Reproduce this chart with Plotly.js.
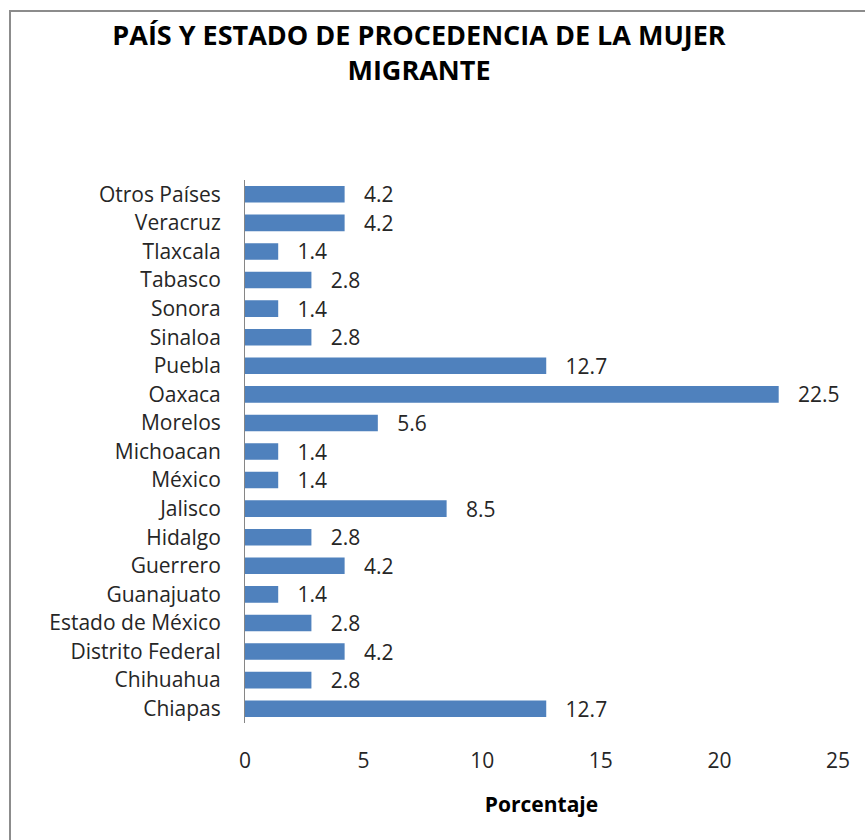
<!DOCTYPE html>
<html>
<head>
<meta charset="utf-8">
<script src="https://cdn.plot.ly/plotly-3.0.1.min.js"></script>
<style>
  html, body { margin: 0; padding: 0; background: #fff; overflow: hidden; }
  #frame { position: absolute; left: 9px; top: 10px; width: 900px; height: 900px;
           border-left: 2px solid #8c8c8c; border-top: 2px solid #8c8c8c; }
  #chart { position: absolute; left: 0; top: 0; width: 865px; height: 840px; }
</style>
</head>
<body>
<div id="frame"></div>
<div id="chart"></div>
<script>
const categories = ["Chiapas", "Chihuahua", "Distrito Federal", "Estado de México", "Guanajuato",
  "Guerrero", "Hidalgo", "Jalisco", "México", "Michoacan", "Morelos", "Oaxaca", "Puebla",
  "Sinaloa", "Sonora", "Tabasco", "Tlaxcala", "Veracruz", "Otros Países"];
const values = [12.7, 2.8, 4.2, 2.8, 1.4, 4.2, 2.8, 8.5, 1.4, 1.4, 5.6, 22.5, 12.7,
  2.8, 1.4, 2.8, 1.4, 4.2, 4.2];
const xTicks = [0, 5, 10, 15, 20, 25];
const titleText = "PAÍS Y ESTADO DE PROCEDENCIA DE LA MUJER<br>MIGRANTE";
const xTitle = "Porcentaje";

const FONT = "'Open Sans', sans-serif";

const trace = {
  type: "bar",
  orientation: "h",
  y: categories,
  x: values,
  marker: { color: "#4F81BD" },
  text: values.map(v => "   " + v.toFixed(1)),
  textposition: "outside",
  constraintext: "none",
  cliponaxis: false,
  textfont: { family: FONT, size: 21, color: "#262626" },
  hoverinfo: "x+y"
};

const layout = {
  width: 865,
  height: 840,
  paper_bgcolor: "rgba(0,0,0,0)",
  plot_bgcolor: "rgba(0,0,0,0)",
  margin: { l: 245, r: 27, t: 180, b: 117 },
  bargap: 0.42,
  showlegend: false,
  font: { family: FONT, color: "#262626" },
  title: {
    text: titleText,
    font: { family: FONT, size: 27, color: "#000", weight: "bold" },
    x: 0.4844, xref: "container", xanchor: "center",
    y: 0.946, yref: "container", yanchor: "middle"
  },
  xaxis: {
    range: [0, 25],
    tickvals: xTicks,
    ticktext: xTicks.map(String),
    showgrid: false,
    zeroline: false,
    showline: false,
    ticks: "",
    ticklabelstandoff: 23,
    tickfont: { family: FONT, size: 21, color: "#262626" },
    title: { text: xTitle, font: { family: FONT, size: 21, color: "#000", weight: "bold" }, standoff: 24 },
    fixedrange: true
  },
  yaxis: {
    type: "category",
    categoryorder: "array",
    categoryarray: categories,
    showgrid: false,
    zeroline: false,
    showline: true,
    linecolor: "#868686",
    linewidth: 1,
    ticks: "",
    ticklabelstandoff: 19,
    tickfont: { family: FONT, size: 21, color: "#262626" },
    fixedrange: true
  }
};

Plotly.newPlot("chart", [trace], layout, { displayModeBar: false, staticPlot: true });
</script>
</body>
</html>
